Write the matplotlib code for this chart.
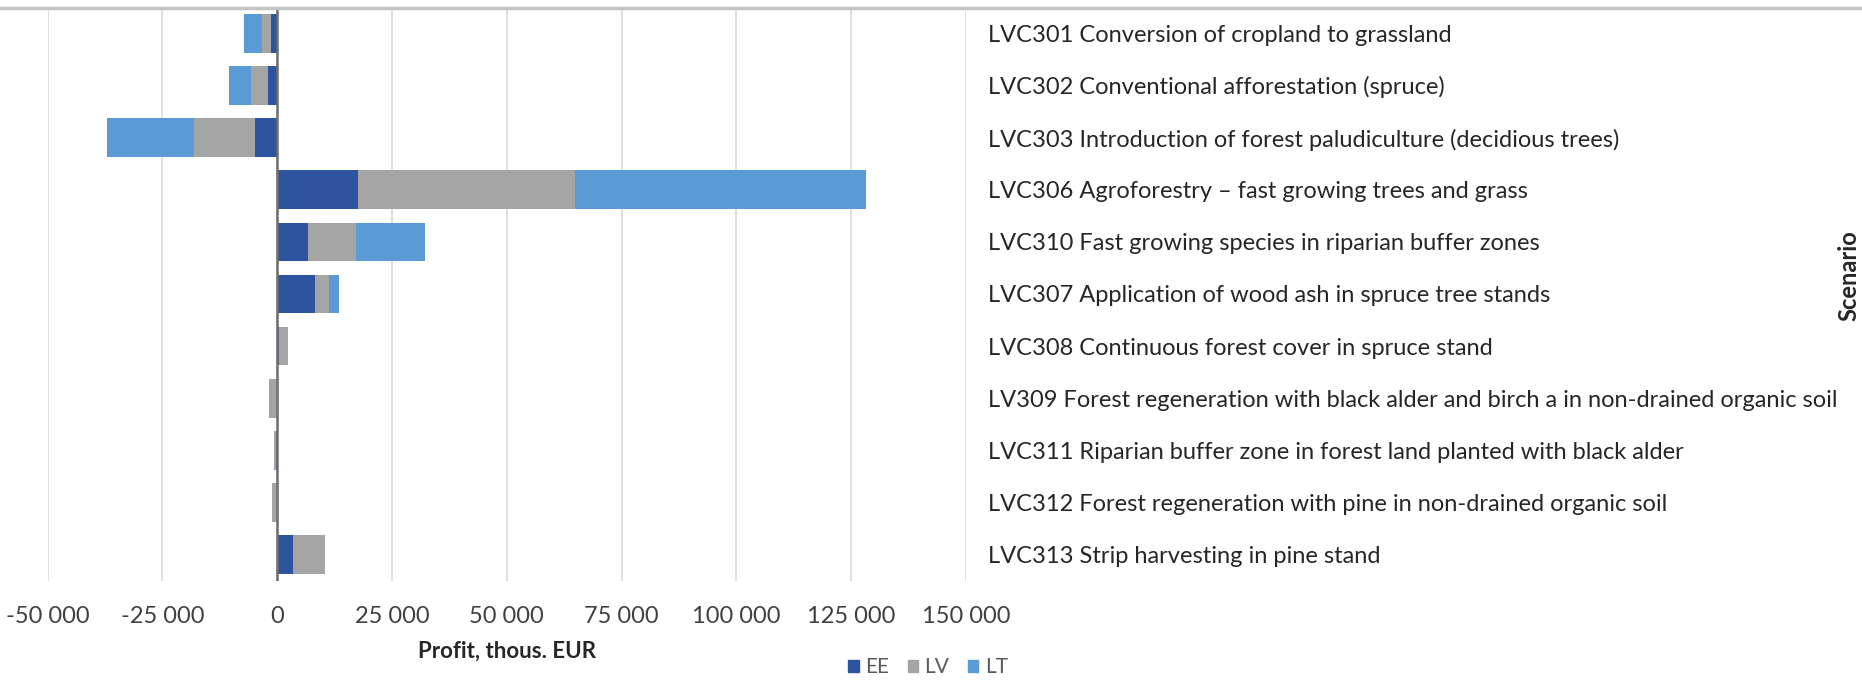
import matplotlib
matplotlib.use('Agg')
import matplotlib.pyplot as plt
import numpy as np
from matplotlib.lines import Line2D
from matplotlib.patches import Patch

# data (thous. EUR)
scenarios = [
    'LVC301 Conversion of cropland to grassland',
    'LVC302 Conventional afforestation (spruce)',
    'LVC303 Introduction of forest paludiculture (decidious trees)',
    'LVC306 Agroforestry \u2013 fast growing trees and grass',
    'LVC310 Fast growing species in riparian buffer zones',
    'LVC307 Application of wood ash in spruce tree stands',
    'LVC308 Continuous forest cover in spruce stand',
    'LV309 Forest regeneration with black alder and birch a in non-drained organic soil',
    'LVC311 Riparian buffer zone in forest land planted with black alder',
    'LVC312 Forest regeneration with pine in non-drained organic soil',
    'LVC313 Strip harvesting in pine stand',
]
countries = ['EE', 'LV', 'LT']
ee = [-1300, -2000, -4900, 17700, 6800, 8300, 300, 0, -200, 0, 3400]
lv = [-2000, -3600, -13300, 47200, 10400, 3100, 2100, -1800, -400, -1200, 7100]
lt = [-4000, -4900, -18800, 63300, 15100, 2000, 0, 0, 0, 0, 0]
xticks = [-50000, -25000, 0, 25000, 50000, 75000, 100000, 125000, 150000]

colors = ['#2E54A0', '#A5A5A5', '#5B9BD5']
plt.rcParams['font.family'] = ['Lato', 'DejaVu Sans']

W, H = 1862, 680
fig = plt.figure(figsize=(W / 100, H / 100), dpi=100)
ax = fig.add_axes([47.5 / W, 1 - 580.7 / H, (966 - 47.5) / W, 573.5 / H])

# stacked bars, positives and negatives stacked away from zero separately
y = np.arange(len(scenarios))
pos = np.zeros(len(scenarios))
neg = np.zeros(len(scenarios))
for vals, c in zip([ee, lv, lt], colors):
    v = np.array(vals, dtype=float)
    left = np.where(v >= 0, pos, neg)
    ax.barh(y, v, left=left, height=0.74, color=c, zorder=3)
    pos = pos + np.where(v >= 0, v, 0)
    neg = neg + np.where(v < 0, v, 0)

ax.set_xlim(-50000, 150000)
ax.set_ylim(len(scenarios) - 0.5, -0.5)
ax.set_xticks(xticks)
ax.set_xticklabels([f'{v:,}'.replace(',', ' ') for v in xticks])
ax.grid(axis='x', color='#D9D9D9', lw=1.2, zorder=0)
ax.axvline(0, color='#6E6E6E', lw=1.8, zorder=4)
for s in ax.spines.values():
    s.set_visible(False)

ax.yaxis.tick_right()
ax.set_yticks(y)
ax.set_yticklabels(scenarios, fontsize=17, color='#262626')
ax.tick_params(axis='y', length=0, pad=16)
ax.tick_params(axis='x', length=0, pad=18, labelsize=17, labelcolor='#404040')

ax.set_xlabel('Profit, thous. EUR', fontsize=16, fontweight='bold',
              color='#262626', labelpad=10)

fig.text(1849 / W, 1 - 276 / H, 'Scenario', rotation=90, fontsize=17,
         fontweight='bold', ha='center', va='center', color='#262626')

handles = [Patch(color=c) for c in colors]
fig.legend(handles, countries, loc='center', bbox_to_anchor=(928 / W, 1 - 667 / H),
           ncol=3, frameon=False, fontsize=15, handlelength=0.5, handleheight=0.5,
           handletextpad=0.3, columnspacing=0.9, labelcolor='#595959')

# grey border line across the top of the screenshot
fig.add_artist(Line2D([0, 1], [1 - 8 / H, 1 - 8 / H], color='#C4C4C4', lw=2.5))

fig.savefig('out.png', dpi=100)
